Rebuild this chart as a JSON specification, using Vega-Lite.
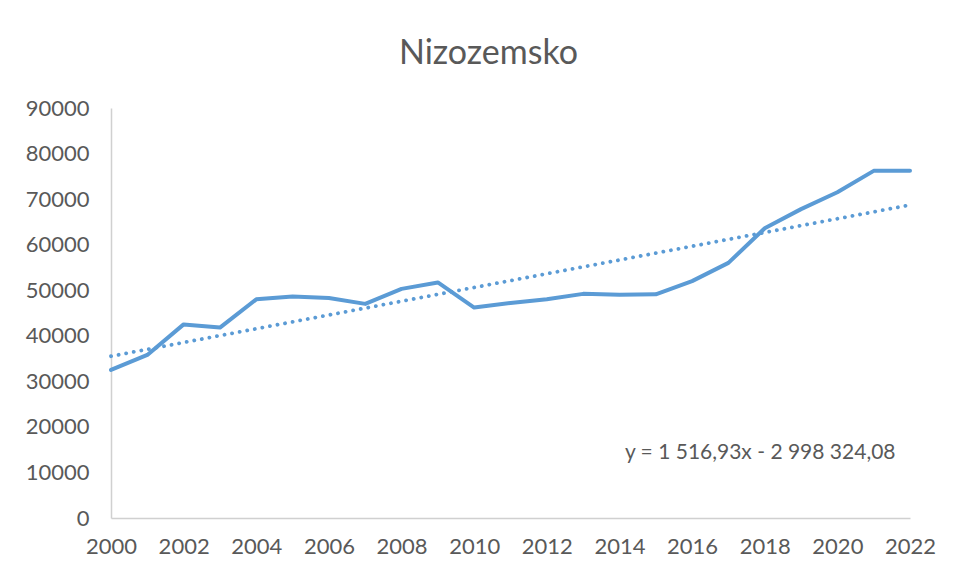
{
  "$schema": "https://vega.github.io/schema/vega-lite/v6.json",
  "autosize": "none",
  "width": 799,
  "height": 410,
  "padding": {"left": 111, "top": 108, "right": 44, "bottom": 53},
  "background": "white",
  "title": {
    "text": "Nizozemsko",
    "font": "Lato",
    "fontSize": 34,
    "fontWeight": "normal",
    "color": "#595959",
    "anchor": "middle",
    "dx": -22,
    "offset": 26
  },
  "config": {
    "view": {"stroke": null},
    "font": "Lato",
    "axis": {
      "labelFont": "Lato",
      "labelFontSize": 22,
      "labelColor": "#595959",
      "grid": false,
      "ticks": false,
      "tickSize": 0,
      "domainColor": "#D0D0D0",
      "domainWidth": 1.5,
      "title": null
    }
  },
  "data": {
    "values": [
      {"year": 2000, "value": 32500},
      {"year": 2001, "value": 35800},
      {"year": 2002, "value": 42500},
      {"year": 2003, "value": 41800},
      {"year": 2004, "value": 48000},
      {"year": 2005, "value": 48600},
      {"year": 2006, "value": 48300},
      {"year": 2007, "value": 47000},
      {"year": 2008, "value": 50300},
      {"year": 2009, "value": 51700},
      {"year": 2010, "value": 46200},
      {"year": 2011, "value": 47200},
      {"year": 2012, "value": 48000},
      {"year": 2013, "value": 49200},
      {"year": 2014, "value": 49000},
      {"year": 2015, "value": 49100},
      {"year": 2016, "value": 52000},
      {"year": 2017, "value": 56000},
      {"year": 2018, "value": 63600},
      {"year": 2019, "value": 67800},
      {"year": 2020, "value": 71500},
      {"year": 2021, "value": 76200},
      {"year": 2022, "value": 76200}
    ]
  },
  "encoding": {
    "x": {
      "field": "year",
      "type": "quantitative",
      "scale": {"domain": [2000, 2022], "nice": false, "zero": false},
      "axis": {"values": [2000, 2002, 2004, 2006, 2008, 2010, 2012, 2014, 2016, 2018, 2020, 2022], "format": "d", "labelPadding": 18, "labelFlush": false}
    },
    "y": {
      "field": "value",
      "type": "quantitative",
      "scale": {"domain": [0, 90000], "nice": false},
      "axis": {"values": [0, 10000, 20000, 30000, 40000, 50000, 60000, 70000, 80000, 90000], "format": "d", "labelPadding": 22}
    }
  },
  "layer": [
    {
      "mark": {"type": "line", "color": "#5B9BD5", "strokeWidth": 4, "strokeJoin": "round", "strokeCap": "round"}
    },
    {
      "transform": [
        {"regression": "value", "on": "year", "method": "linear", "extent": [2000, 2022]}
      ],
      "mark": {"type": "line", "color": "#5B9BD5", "strokeWidth": 3.8, "strokeCap": "round", "strokeDash": [0.1, 7.6]}
    },
    {
      "data": {"values": [{"label": "y = 1 516,93x - 2 998 324,08", "lx": 2014.15, "ly": 14300}]},
      "mark": {"type": "text", "align": "left", "baseline": "middle", "font": "Lato", "fontSize": 21, "color": "#595959"},
      "encoding": {
        "x": {"field": "lx", "type": "quantitative"},
        "y": {"field": "ly", "type": "quantitative"},
        "text": {"field": "label"}
      }
    }
  ]
}
